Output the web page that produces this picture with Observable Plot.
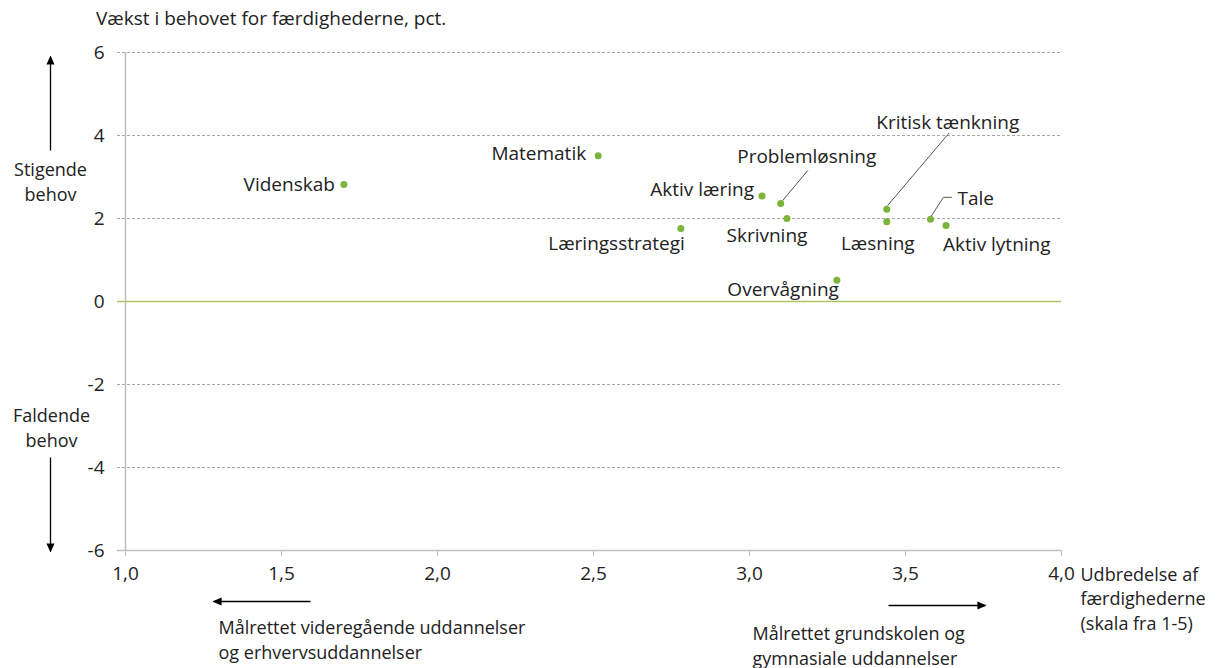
<!DOCTYPE html>
<html>
<head>
<meta charset="utf-8">
<script src="https://cdn.jsdelivr.net/npm/d3@7"></script>
<script src="https://cdn.jsdelivr.net/npm/@observablehq/plot@0.6"></script>
<style>
  html, body { margin: 0; padding: 0; background: #fff; }
  body { width: 1226px; height: 668px; overflow: hidden; font-family: "Open Sans", sans-serif; color: #222; }
  #title { height: 36px; line-height: 36px; padding-left: 96px; font-size: 19px; }
</style>
</head>
<body>
<div id="title">Vækst i behovet for færdighederne, pct.</div>
<div id="chart"></div>
<script>
// ---- data ----
const skills = ["Videnskab", "Matematik", "Aktiv læring", "Problemløsning", "Læringsstrategi", "Skrivning", "Kritisk tænkning", "Læsning", "Tale", "Aktiv lytning", "Overvågning"];
const spread = [1.70, 2.515, 3.04, 3.10, 2.78, 3.12, 3.44, 3.44, 3.58, 3.63, 3.28];
const growth = [2.82, 3.51, 2.54, 2.36, 1.76, 2.00, 2.22, 1.92, 1.98, 1.83, 0.51];
const xTicks = [1.0, 1.5, 2.0, 2.5, 3.0, 3.5, 4.0];
const yTicks = [-6, -4, -2, 0, 2, 4, 6];
const gridTicks = [-4, -2, 2, 4, 6];

// ---- layout (pixel offsets of labels and leaders) ----
const labelLayout = {
  "Videnskab": ["end", -9, 0],
  "Matematik": ["end", -12, -2],
  "Aktiv læring": ["end", -8, -6],
  "Problemløsning": ["middle", 26, -47],
  "Læringsstrategi": ["end", 4, 15],
  "Skrivning": ["middle", -20, 17],
  "Kritisk tænkning": ["middle", 61, -86],
  "Læsning": ["middle", -9, 22],
  "Tale": ["start", 27, -20],
  "Aktiv lytning": ["start", -3, 19],
  "Overvågning": ["end", 2, 10]
};
const leaderLayout = {
  "Problemløsning": [[2, -3], [27, -33]],
  "Kritisk tænkning": [[1, -4], [62, -76]],
  "Tale": [[0, -2], [13, -22], [21, -22]]
};

const W = 1226, H = 632, ML = 125, MR = 165, MT = 16, MB = 118;
const xDomain = [1, 4], yDomain = [-6, 6];
const kx = (W - ML - MR) / (xDomain[1] - xDomain[0]);
const ky = (H - MT - MB) / (yDomain[1] - yDomain[0]);
const px = (x, dx) => x + dx / kx;
const py = (y, dy) => y - dy / ky;

const points = skills.map((name, i) => ({name, x: spread[i], y: growth[i]}));
const labels = points.map(d => {
  const [anchor, dx, dy] = labelLayout[d.name];
  return {name: d.name, anchor, x: px(d.x, dx), y: py(d.y, dy)};
});
const leaders = [];
points.forEach(d => {
  const l = leaderLayout[d.name];
  if (l) l.forEach(([dx, dy]) => leaders.push({name: d.name, x: px(d.x, dx), y: py(d.y, dy)}));
});

// annotations (in pixel-derived data positions)
const xLeft = px(1, -8);
const annotArrows = [
  {x1: px(1, -75), y1: py(6, 98), x2: px(1, -75), y2: py(6, 4)},      // up
  {x1: px(1, -75), y1: py(-6, -93), x2: px(1, -75), y2: py(-6, 1)},   // down
  {x1: px(1, 185), y1: py(-6, 51), x2: px(1, 88), y2: py(-6, 51)},    // left
  {x1: px(1, 763), y1: py(-6, 55), x2: px(1, 860), y2: py(-6, 55)}    // right
];
const annotTexts = [
  {x: px(1, -75), y: py(6, 128), text: "Stigende\nbehov", anchor: "middle"},
  {x: px(1, -74), y: py(-6, -124), text: "Faldende\nbehov", anchor: "middle"},
  {x: px(1, 93), y: py(-6, 88), text: "Målrettet videregående uddannelser\nog erhvervsuddannelser", anchor: "start"},
  {x: px(1, 627), y: py(-6, 94), text: "Målrettet grundskolen og\ngymnasiale uddannelser", anchor: "start"},
  {x: px(4, 19), y: py(-6, 47), text: "Udbredelse af\nfærdighederne\n(skala fra 1-5)", anchor: "start"}
];

function filledArrow(color, context) {
  const ns = "http://www.w3.org/2000/svg";
  const m = document.createElementNS(ns, "marker");
  m.setAttribute("viewBox", "0 -5 10 10");
  m.setAttribute("refX", "9");
  m.setAttribute("refY", "0");
  m.setAttribute("markerUnits", "userSpaceOnUse");
  m.setAttribute("markerWidth", "9");
  m.setAttribute("markerHeight", "9");
  m.setAttribute("orient", "auto");
  const p = document.createElementNS(ns, "path");
  p.setAttribute("d", "M0,-4.5L10,0L0,4.5Z");
  p.setAttribute("fill", color);
  p.setAttribute("stroke", "none");
  m.appendChild(p);
  return m;
}

const fmtX = d => d.toFixed(1).replace(".", ",");
const textFill = "#222";

const chart = Plot.plot({
  width: W, height: H,
  marginLeft: ML, marginRight: MR, marginTop: MT, marginBottom: MB,
  style: {fontFamily: "'Open Sans', sans-serif", fontSize: "19px", color: textFill, background: "#fff", overflow: "visible"},
  x: {domain: xDomain, ticks: xTicks},
  y: {domain: yDomain, ticks: yTicks},
  marks: [
    Plot.ruleY(gridTicks, {x1: xLeft, x2: 4, stroke: "#a8a8a8", strokeDasharray: "3,2", strokeWidth: 1}),
    Plot.ruleX([1], {stroke: "#bfbfbf", strokeWidth: 1.5}),
    Plot.ruleY([-6], {x1: xLeft, x2: 4, stroke: "#bfbfbf", strokeWidth: 1.5}),
    Plot.ruleY([0], {x1: xLeft, x2: 4, stroke: "#aec46f", strokeWidth: 1.5}),
    Plot.axisX({ticks: xTicks, tickFormat: fmtX, tickSize: 6, tickPadding: 10, stroke: "#bfbfbf", fill: textFill, label: null}),
    Plot.axisY({ticks: yTicks, tickFormat: d => String(d), tickSize: 0, tickPadding: 21, fill: textFill, label: null}),
    Plot.line(leaders, {x: "x", y: "y", z: "name", stroke: "#555", strokeWidth: 1}),
    Plot.dot(points, {x: "x", y: "y", r: 3.5, fill: "#7ab539"}),
    ...["start", "middle", "end"].map(a =>
      Plot.text(labels.filter(d => d.anchor === a), {x: "x", y: "y", text: "name", textAnchor: a, fill: textFill})
    ),
    Plot.link(annotArrows, {x1: "x1", y1: "y1", x2: "x2", y2: "y2", stroke: "#000", strokeWidth: 1.3, markerEnd: filledArrow}),
    ...["start", "middle"].map(a =>
      Plot.text(annotTexts.filter(d => d.anchor === a), {x: "x", y: "y", text: "text", textAnchor: a, lineAnchor: "middle", lineHeight: 1.36, fontSize: 18, fill: textFill})
    )
  ]
});
document.getElementById("chart").appendChild(chart);
</script>
</body>
</html>
